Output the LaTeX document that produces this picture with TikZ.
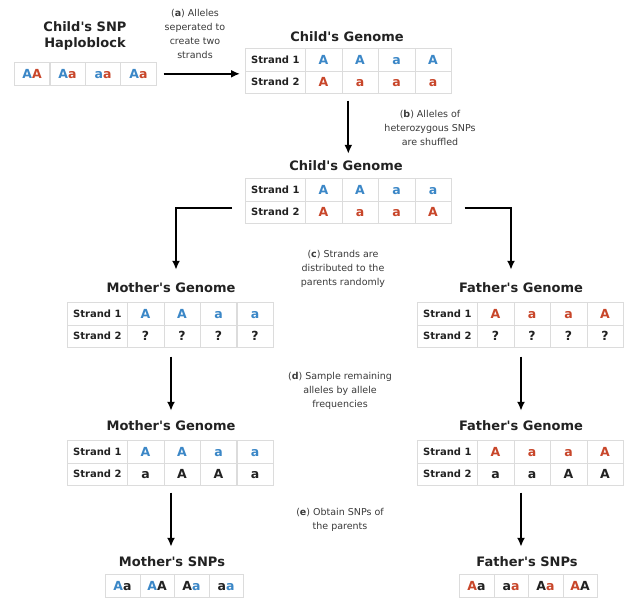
\documentclass[tikz,border=0pt]{standalone}
\usepackage{fontspec}
\setmainfont{DejaVu Sans}[Ligatures=TeXOff]
\usetikzlibrary{matrix,arrows.meta}
\definecolor{blu}{HTML}{3B87C7}
\definecolor{rd}{HTML}{C8462A}
\definecolor{cellgray}{HTML}{DCDCDC}
\definecolor{ink}{HTML}{222222}
\definecolor{notegray}{HTML}{3A3A3A}
\newcommand\B[1]{\textcolor{blu}{#1}}
\newcommand\R[1]{\textcolor{rd}{#1}}
\newcommand\K[1]{#1}
\begin{document}
\begin{tikzpicture}[x=1pt,y=-1pt,
  title/.style={font=\bfseries\fontsize{13}{16.5}\selectfont, text=ink, inner sep=1pt, align=center},
  note/.style={font=\fontsize{9.5}{14}\selectfont, align=center, text=notegray, inner sep=0},
  genome/.style={matrix of nodes, anchor=north west, inner sep=0pt, outer sep=0pt,
    column sep=-0.6pt, row sep=-0.6pt,
    nodes={draw=cellgray, line width=0.6pt, minimum width=36.5pt, minimum height=22.5pt,
      text height=9.2pt, text depth=0pt,
      inner sep=0, font=\bfseries\fontsize{12.5}{13}\selectfont, anchor=center, text=ink},
    column 1/.style={nodes={minimum width=60pt, text height=7.4pt, font=\bfseries\fontsize{10}{10}\selectfont}}},
  snp/.style={matrix of nodes, anchor=north west, inner sep=0pt, outer sep=0pt,
    column sep=-0.6pt,
    nodes={draw=cellgray, line width=0.6pt, minimum width=34.5pt, minimum height=23pt,
      text height=9.2pt, text depth=0pt,
      inner sep=0, font=\bfseries\fontsize{12.5}{13}\selectfont, anchor=center, text=ink}},
  arr/.style={line width=1.8pt, -{Latex[length=9pt,width=8pt]}}
]
\useasboundingbox[fill=white] (0,0) rectangle (627,598);

% (a) haploblock
\node[title] (hapt) at (85,36) {Child's SNP\\Haploblock};
\matrix (hap) [snp, nodes={minimum width=35.5pt}] at (14,62)
  {\B{A}\R{A} & \B{A}\R{a} & \B{a}\R{a} & \B{A}\R{a}\\};

% child genome 1
\node[title] (cg1t) at (347,37) {Child's Genome};
\matrix (cg1) [genome] at (245,48) {
  Strand 1 & \B{A} & \B{A} & \B{a} & \B{A}\\
  Strand 2 & \R{A} & \R{a} & \R{a} & \R{a}\\};

% child genome 2
\node[title] (cg2t) at (346,166) {Child's Genome};
\matrix (cg2) [genome] at (245,178) {
  Strand 1 & \B{A} & \B{A} & \B{a} & \B{a}\\
  Strand 2 & \R{A} & \R{a} & \R{a} & \R{A}\\};

% mother / father genome 1
\node[title] (m1t) at (171,288) {Mother's Genome};
\matrix (m1) [genome] at (67,302) {
  Strand 1 & \B{A} & \B{A} & \B{a} & \B{a}\\
  Strand 2 & \K{?} & \K{?} & \K{?} & \K{?}\\};
\node[title] (f1t) at (521,288) {Father's Genome};
\matrix (f1) [genome] at (417,302) {
  Strand 1 & \R{A} & \R{a} & \R{a} & \R{A}\\
  Strand 2 & \K{?} & \K{?} & \K{?} & \K{?}\\};

% mother / father genome 2
\node[title] (m2t) at (171,426) {Mother's Genome};
\matrix (m2) [genome] at (67,440) {
  Strand 1 & \B{A} & \B{A} & \B{a} & \B{a}\\
  Strand 2 & \K{a} & \K{A} & \K{A} & \K{a}\\};
\node[title] (f2t) at (521,426) {Father's Genome};
\matrix (f2) [genome] at (417,440) {
  Strand 1 & \R{A} & \R{a} & \R{a} & \R{A}\\
  Strand 2 & \K{a} & \K{a} & \K{A} & \K{A}\\};

% SNPs
\node[title] (mst) at (172,562) {Mother's SNPs};
\matrix (ms) [snp] at (105,574)
  {\B{A}\K{a} & \B{A}\K{A} & \K{A}\B{a} & \K{a}\B{a}\\};
\node[title] (fst) at (527,562) {Father's SNPs};
\matrix (fs) [snp] at (459,574)
  {\R{A}\K{a} & \K{a}\R{a} & \K{A}\R{a} & \R{A}\K{A}\\};

% notes
\node[note] (na) at (195,34) {(\textbf{a}) Alleles\\seperated to\\create two\\strands};
\node[note] (nb) at (430,128) {(\textbf{b}) Alleles of\\heterozygous SNPs\\are shuffled};
\node[note] (nc) at (343,269) {(\textbf{c}) Strands are\\distributed to the\\parents randomly};
\node[note] (nd) at (340,391) {(\textbf{d}) Sample remaining\\alleles by allele\\frequencies};
\node[note] (ne) at (340,520) {(\textbf{e}) Obtain SNPs of\\the parents};

% arrows
\draw[arr, shorten <=7pt, shorten >=5pt] (hap.east) -- (hap.east -| cg1.west);
\draw[arr, shorten <=7pt, shorten >=6pt] (cg1.south) -- (cg1.south |- cg2t.north);
\draw[arr] ([xshift=-13pt,yshift=-7pt]cg2.west) -| ([xshift=5pt,yshift=12pt]m1t.north);
\draw[arr] ([xshift=13pt,yshift=-7pt]cg2.east) -| ([xshift=-10pt,yshift=12pt]f1t.north);
\draw[arr, shorten <=9pt, shorten >=9pt] (m1t |- m1.south) -- (m2t.north);
\draw[arr, shorten <=9pt, shorten >=9pt] (f1t |- f1.south) -- (f2t.north);
\draw[arr, shorten <=7pt, shorten >=9pt] (m2t |- m2.south) -- (m2t |- mst.north);
\draw[arr, shorten <=7pt, shorten >=9pt] (f2t |- f2.south) -- (f2t |- fst.north);
\end{tikzpicture}
\end{document}
